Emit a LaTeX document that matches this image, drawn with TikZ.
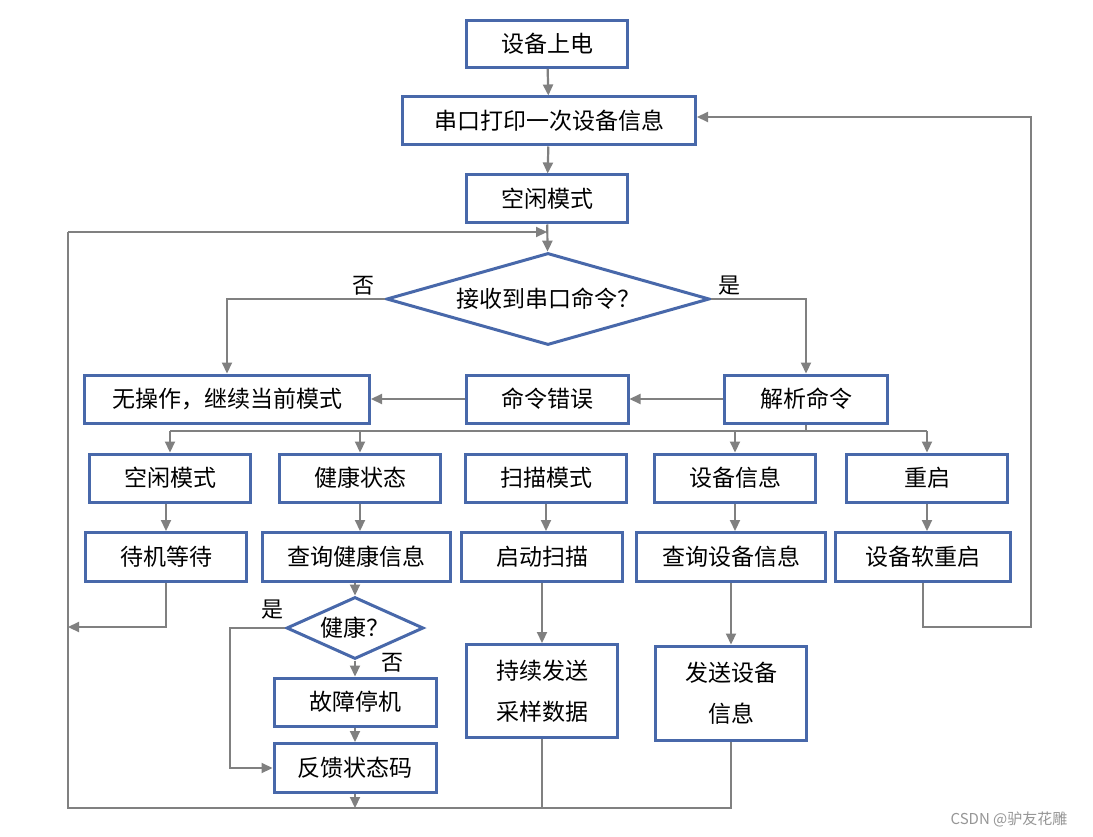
\documentclass[tikz,border=0pt]{standalone}
\usepackage{fontspec}
\setmainfont{Noto Sans CJK SC}
\usetikzlibrary{shapes.geometric,arrows.meta}
\definecolor{boxblue}{RGB}{72,104,170}
\definecolor{lgray}{RGB}{128,128,128}
\definecolor{wmgray}{RGB}{150,150,150}
\begin{document}
\begin{tikzpicture}[x=1pt,y=-1pt,
  box/.style={draw=boxblue,line width=3pt,inner sep=0pt,align=center,
    font=\fontsize{23}{41}\selectfont},
  dia/.style={diamond,draw=boxblue,line width=3pt,inner sep=0pt,
    font=\fontsize{23}{27}\selectfont},
  conn/.style={draw=lgray,line width=2.2pt,-{Triangle[length=11pt,width=10pt]}},
  plain/.style={draw=lgray,line width=2.2pt},
  lbl/.style={font=\fontsize{22}{26}\selectfont,inner sep=0pt}]
\fill[white] (0,0) rectangle (1093,837);
\useasboundingbox (0,0) rectangle (1093,837);
% top chain
\node[box,minimum width=161,minimum height=47] (power) at (547,44) {设备上电};
\node[box,minimum width=293,minimum height=48] (print) at (549,121) {串口打印一次设备信息};
\node[box,minimum width=161,minimum height=48] (idle) at (547,199) {空闲模式};
\node[dia,minimum width=323,minimum height=92,aspect=3.5] (recv) at (548,299) {接收到串口命令？};
% second row
\node[box,minimum width=285,minimum height=48] (noop) at (227,399) {无操作，继续当前模式};
\node[box,minimum width=162,minimum height=48] (err) at (547,399) {命令错误};
\node[box,minimum width=163,minimum height=48] (parse) at (806,399) {解析命令};
% mode row
\node[box,minimum width=161,minimum height=48] (m1) at (170,478) {空闲模式};
\node[box,minimum width=161,minimum height=48] (m2) at (360,478) {健康状态};
\node[box,minimum width=161,minimum height=48] (m3) at (546,478) {扫描模式};
\node[box,minimum width=161,minimum height=48] (m4) at (735,478) {设备信息};
\node[box,minimum width=161,minimum height=48] (m5) at (927,478) {重启};
% action row
\node[box,minimum width=161,minimum height=49] (a1) at (166,557) {待机等待};
\node[box,minimum width=188,minimum height=49] (a2) at (356,557) {查询健康信息};
\node[box,minimum width=161,minimum height=49] (a3) at (542,557) {启动扫描};
\node[box,minimum width=189,minimum height=49] (a4) at (731,557) {查询设备信息};
\node[box,minimum width=175,minimum height=49] (a5) at (923,557) {设备软重启};
% health branch
\node[dia,minimum width=137,minimum height=62,aspect=2.2] (hq) at (355,628) {健康？};
\node[box,minimum width=162,minimum height=48] (fault) at (355,702) {故障停机};
\node[box,minimum width=162,minimum height=49] (fb) at (355,768) {反馈状态码};
\node[box,minimum width=151,minimum height=93] (cont) at (542,691) {持续发送\\采样数据};
\node[box,minimum width=151,minimum height=94] (send) at (731,693) {发送设备\\信息};
% coordinates
\coordinate (tl) at (68,232);
\coordinate (bl) at (68,808);
\coordinate (wl) at (68,627);
\coordinate (rr) at (1031,627);
\coordinate (bus) at (806,431);
\coordinate (hl) at (230,628);
% top connectors
\draw[conn] (power) -- (print);
\draw[conn] (print) -- (idle);
\draw[conn] (idle) -- (recv);
\draw[conn] (recv.west) -| (noop.north);
\draw[conn] (recv.east) -| (parse.north);
\draw[conn] (parse) -- (err);
\draw[conn] (err) -- (noop);
\node[lbl] (no1) at (363,286) {否};
\node[lbl] (yes1) at (729,286) {是};
% bus
\draw[plain] (parse.south) -- (parse.south |- bus);
\draw[plain] (m1.north |- bus) -- (m5.north |- bus);
\draw[conn] (m1.north |- bus) -- (m1.north);
\draw[conn] (m2.north |- bus) -- (m2.north);
\draw[conn] (m4.north |- bus) -- (m4.north);
\draw[conn] (m5.north |- bus) -- (m5.north);
% mode -> action
\draw[conn] (m1.south -| a1) -- (a1.north);
\draw[conn] (m2.south) -- (m2.south |- a2.north);
\draw[conn] (m3.south) -- (m3.south |- a3.north);
\draw[conn] (m4.south) -- (m4.south |- a4.north);
\draw[conn] (m5.south) -- (m5.south |- a5.north);
% health
\draw[conn] (a2.south -| hq) -- (hq.north);
\draw[conn] (hq.south) -- (fault.north);
\draw[conn] (hq.west) -- (hl) |- (fb.west);
\draw[conn] (fault) -- (fb);
\node[lbl] (yes2) at (272,610) {是};
\node[lbl] (no2) at (392,663) {否};
% scan / info
\draw[conn] (a3.south) -- (cont.north);
\draw[conn] (a4.south) -- (send.north);
% returns
\draw[conn] (a1.south) |- (wl);
\draw[conn] (a5.south) |- (rr) |- ([yshift=4pt]print.east);
\draw[plain] (send.south) -- (send.south |- bl) -- (bl) -- (tl);
\draw[conn] (tl) -- (idle.south |- tl);
\draw[plain] (cont.south) -- (cont.south |- bl);
\draw[conn] (fb.south) -- (fb.south |- bl);
% watermark
\node[font=\fontsize{15}{18}\selectfont,text=wmgray,inner sep=0pt] (wm) at (1009,819) {CSDN @驴友花雕};
\end{tikzpicture}
\end{document}
